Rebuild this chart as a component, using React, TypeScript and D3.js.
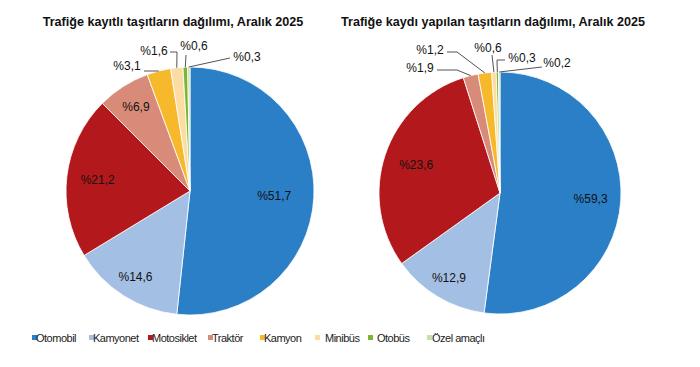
import * as d3 from 'd3';

// categories and colours (legend order = slice order, clockwise from 12 o'clock)
const kategoriler = ['Otomobil', 'Kamyonet', 'Motosiklet', 'Traktör', 'Kamyon', 'Minibüs', 'Otobüs', 'Özel amaçlı'];
const renkler = ['#2b7fc7', '#a4bfe4', '#b3191c', '#d98b79', '#f6b92c', '#fbdda3', '#7cb531', '#c9dfa6'];

// left pie: registered vehicles
const kayitliPay = [51.7, 14.6, 21.2, 6.9, 3.1, 1.6, 0.6, 0.3];
const kayitliEtiket = ['%51,7', '%14,6', '%21,2', '%6,9', '%3,1', '%1,6', '%0,6', '%0,3'];

// right pie: newly registered vehicles
// slice sizes as drawn in the picture, labels as printed on it
const yeniPay = [52.1, 13.0, 30.0, 2.0, 1.8, 0.6, 0.3, 0.2];
const yeniEtiket = ['%59,3', '%12,9', '%23,6', '%1,9', '%1,2', '%0,6', '%0,3', '%0,2'];

const basliklar = ['Trafiğe kayıtlı taşıtların dağılımı, Aralık 2025', 'Trafiğe kaydı yapılan taşıtların dağılımı, Aralık 2025'];

const FONT = '"Liberation Sans", Arial, sans-serif';

type Leader = { text: [number, number]; start: [number, number]; elbow?: [number, number] };

// label placement, relative to pie centre
const solDuzen = {
  cx: 190, cy: 191, r: 124, titleX: 173,
  inside: [0.68, 0.82, 0.75, 0.81],
  outside: [
    null, null, null, null,
    { text: [-63, -125], start: [-46, -120] },
    { text: [-36, -140], start: [-20, -139], elbow: [-13, -139] },
    { text: [4, -145], start: [-4, -136] },
    { text: [57, -134], start: [40, -133] },
  ] as (Leader | null)[],
};
const sagDuzen = {
  cx: 500, cy: 193, r: 121, titleX: 493,
  inside: [0.75, 0.82, 0.73],
  outside: [
    null, null, null,
    { text: [-80, -125], start: [-63, -123], elbow: [-43, -123] },
    { text: [-70, -143], start: [-53, -141], elbow: [-43, -141] },
    { text: [-12, -145], start: [-8, -138] },
    { text: [22, -135], start: [5, -133], elbow: [-3, -133] },
    { text: [57, -130], start: [42, -126] },
  ] as (Leader | null)[],
};

const legendX = [32, 89, 148, 208, 260, 315, 368, 427];
const legendTextX = [36, 93, 152, 212, 264, 325, 377, 432];

function Pasta({ pay, etiket, duzen, baslik }: { pay: number[]; etiket: string[]; duzen: typeof solDuzen; baslik: string }) {
  const pie = d3.pie<number>().sort(null).value((d) => d);
  const arcs = pie(pay);
  const arc = d3.arc<d3.PieArcDatum<number>>().innerRadius(0).outerRadius(duzen.r);
  const edge = d3.arc<d3.PieArcDatum<number>>().innerRadius(duzen.r).outerRadius(duzen.r);

  return (
    <g>
      <text x={duzen.titleX} y={26} textAnchor="middle" fontFamily={FONT} fontWeight="bold" fontSize={12.6} fill="#111">
        {baslik}
      </text>
      <g transform={`translate(${duzen.cx},${duzen.cy})`}>
        {arcs.map((a, i) => (
          <path key={i} d={arc(a) ?? ''} fill={renkler[i]} stroke="#fff" strokeWidth={0.8} />
        ))}
        {arcs.map((a, i) => {
          const f = duzen.inside[i];
          if (f === undefined) return null;
          const mid = (a.startAngle + a.endAngle) / 2;
          const d = duzen.r * f;
          return (
            <text key={'in' + i} x={Math.sin(mid) * d} y={-Math.cos(mid) * d} dy="0.35em" textAnchor="middle"
              fontFamily={FONT} fontSize={12} fill="#111">
              {etiket[i]}
            </text>
          );
        })}
        {arcs.map((a, i) => {
          const o = duzen.outside[i];
          if (!o) return null;
          const [ex, ey] = edge.centroid(a);
          const pts: [number, number][] = [o.start, ...(o.elbow ? [o.elbow] : []), [ex, ey]];
          return (
            <g key={'out' + i}>
              <path d={d3.line()(pts) ?? ''} fill="none" stroke="#404040" strokeWidth={0.9} />
              <text x={o.text[0]} y={o.text[1]} dy="0.35em" textAnchor="middle" fontFamily={FONT} fontSize={12} fill="#111">
                {etiket[i]}
              </text>
            </g>
          );
        })}
      </g>
    </g>
  );
}

export default function App() {
  return (
    <svg width={700} height={367} style={{ position: 'absolute', left: 0, top: 0, background: '#fff' }}>
      <rect width={700} height={367} fill="#fff" />
      <Pasta pay={kayitliPay} etiket={kayitliEtiket} duzen={solDuzen} baslik={basliklar[0]} />
      <Pasta pay={yeniPay} etiket={yeniEtiket} duzen={sagDuzen} baslik={basliklar[1]} />
      <g>
        {kategoriler.map((k, i) => (
          <g key={k}>
            <rect x={legendX[i]} y={335} width={5} height={5} fill={renkler[i]} />
            <text x={legendTextX[i]} y={338} dy="0.35em" fontFamily={FONT} fontSize={11} letterSpacing={-0.5} fill="#222">
              {k}
            </text>
          </g>
        ))}
      </g>
    </svg>
  );
}
